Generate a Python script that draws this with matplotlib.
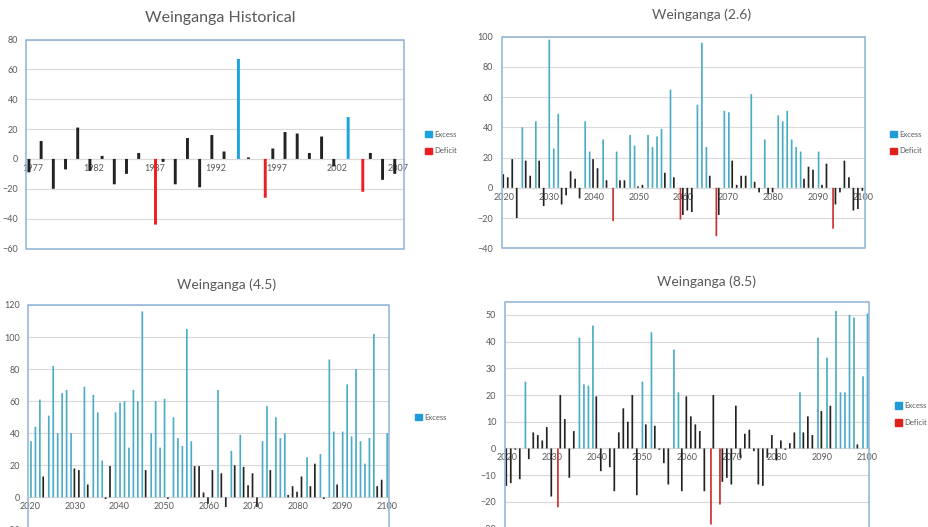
import matplotlib.pyplot as plt
from matplotlib.patches import Rectangle
import numpy as np

plt.rcParams['font.family'] = ['Lato', 'DejaVu Sans']

# Weinganga excess / deficit series
hist_years = list(range(1977, 2008))
hist_vals = [-9, 12, -20, -7, 21, -8, 2, -17, -10, 4,
             -44, -2, -17, 14, -19, 16, 5, 67, 1, -26,
             7, 18, 17, 4, 15, -5, 28, -22, 4, -14, -10]
hist_excess = [1994, 2003]
hist_deficit = [1987, 1996, 2004]

fut_years = list(range(2020, 2101))

rcp26_vals = [9, 7, 19, -20, 40, 18, 8, 44, 18, -12,
              98, 26, 49, -11, -5, 11, 6, -7, 44, 24,
              19, 13, 32, 5, -22, 24, 5, 5, 35, 28,
              1, 2, 35, 27, 34, 39, 10, 65, 7, -21,
              -18, -15, -16, 55, 96, 27, 8, -32, -18, 51,
              50, 18, 2, 8, 8, 62, 4, -3, 32, -4,
              -3, 48, 44, 51, 32, 27, 24, 6, 14, 12,
              24, 2, 16, -27, -11, -3, 18, 7, -15, -14,
              -2]
rcp26_excess = [2024, 2027, 2030, 2031, 2032, 2038, 2039, 2042, 2045, 2048,
                2049, 2052, 2053, 2054, 2055, 2057, 2063, 2064, 2065, 2069,
                2070, 2075, 2078, 2081, 2082, 2083, 2084, 2085, 2086, 2090]
rcp26_deficit = [2044, 2059, 2067, 2093]

rcp45_vals = [35, 44, 61, 13, 51, 82, 40, 65, 67, 40,
              18, 17, 69, 8, 64, 53, 23, -1, 19.5, 53,
              59, 60, 31, 67, 60, 116, 17, 40, 60, 31,
              61.5, -1, 50, 37, 32, 105, 35, 19.5, 19.5, 3,
              -4, 17, 67, 15, -6, 29, 20, 39, 19, 7.5,
              15, -6, 35, 57, 17, 50, 37, 40, 1.5, 7,
              3.5, 13, 25, 7, 21, 27, -1, 86, 41, 8,
              41, 70.5, 38, 80, 35, 21, 37, 102, 7, 11,
              40]
rcp45_excess = [2020, 2021, 2022, 2024, 2025, 2026, 2027, 2028, 2029, 2032,
                2034, 2035, 2036, 2039, 2040, 2041, 2042, 2043, 2044, 2045,
                2047, 2048, 2049, 2050, 2052, 2053, 2054, 2055, 2056, 2062,
                2065, 2067, 2072, 2073, 2075, 2076, 2077, 2082, 2085, 2087,
                2088, 2090, 2091, 2092, 2093, 2094, 2095, 2096, 2097, 2100]
rcp45_deficit = []

rcp85_vals = [-14, -13, -0.5, -11.5, 25, -4, 6, 5, 3, 8,
              -18, -22, 20, 11, -11, 6.5, 41.5, 24, 23.5, 46,
              19.5, -8.5, 0, -7, -16, 6, 15, 10, 20, -17.5,
              25, 9, 43.5, 8.5, -0.5, -5.5, -13.5, 37, 21, -16,
              19.5, 12, 9, 6.5, -16, -28.5, 20, -21, -12.5, -11,
              -13.5, 16, -3.5, 5.5, 7, -1, -13.5, -14, -3.5, 5,
              -4.5, 3, -0.5, 2, 6, 21, 6, 12, 5, 41.5,
              14, 34, 16, 51.5, 21, 21, 50, 49, 1.5, 27,
              50.5]
rcp85_excess = [2024, 2036, 2037, 2038, 2039, 2050, 2052, 2057, 2058, 2085,
                2089, 2091, 2093, 2094, 2095, 2096, 2097, 2099, 2100]
rcp85_deficit = [2031, 2065, 2067]

W, H = 929, 527
TXT = "#595959"
GRID = "#d9d9d9"
FRAME = "#8eb2d6"
BLACK = "#222222"


def px_box(left, top, right, bottom):
    # pixel box of the plot area -> figure fraction
    return [left / W, 1 - bottom / H, (right - left) / W, (bottom - top) / H]


def panel(fig, box, years, vals, excess, deficit, ylim, step, every,
          offs, width, blue, red):
    ax = fig.add_axes(box)
    years = np.array(years)
    vals = np.array(vals, dtype=float)
    x = np.arange(len(years))
    exc = np.isin(years, excess)
    dfc = np.isin(years, deficit)
    norm = ~(exc | dfc)

    # snap off so the thin bars all keep the same width
    ax.bar(x[norm] + offs[0], vals[norm], width, color=BLACK, zorder=3,
           snap=False)
    ax.bar(x[exc] + offs[1], vals[exc], width, color=blue, zorder=3,
           snap=False)
    ax.bar(x[dfc] + offs[2], vals[dfc], width, color=red, zorder=3,
           snap=False)

    ax.set_xlim(-0.5, len(years) - 0.5)
    ax.set_ylim(*ylim)
    ax.set_yticks(np.arange(ylim[0], ylim[1] + 0.1, step))
    ax.set_xticks(x[::every])
    ax.set_xticklabels([str(y) for y in years[::every]])

    ax.yaxis.grid(True, color=GRID, lw=0.8)
    ax.set_axisbelow(True)
    for s in ["left", "right", "top"]:
        ax.spines[s].set_visible(False)
    ax.spines["bottom"].set_position(("data", 0))
    ax.spines["bottom"].set_color(GRID)
    ax.spines["bottom"].set_linewidth(0.8)
    ax.add_patch(Rectangle((0, 0), 1, 1, transform=ax.transAxes, fill=False,
                           edgecolor=FRAME, lw=1.1, clip_on=False, zorder=5))

    ax.tick_params(axis="x", length=0, pad=3.5, labelsize=6.5, labelcolor=TXT)
    ax.tick_params(axis="y", length=0, pad=6, labelsize=6.5, labelcolor=TXT)
    return ax


def legend(fig, x, y, blue, red, with_deficit=True):
    handles = [Rectangle((0, 0), 1, 1, color=blue)]
    labels = ["Excess"]
    if with_deficit:
        handles.append(Rectangle((0, 0), 1, 1, color=red))
        labels.append("Deficit")
    fig.legend(handles, labels, loc="center left",
               bbox_to_anchor=(x / W, 1 - y / H), frameon=False,
               fontsize=5.5, handlelength=0.9, handleheight=0.9,
               handletextpad=0.3, labelspacing=1.3, borderpad=0,
               borderaxespad=0, labelcolor=TXT)


def main():
    fig = plt.figure(figsize=(W / 100, H / 100), dpi=100)

    hb, hr = "#1aa3dc", "#ee1d23"
    fb, fr = "#4bacc6", "#c9302c"

    panel(fig, px_box(26.5, 39.5, 404.5, 248.5), hist_years, hist_vals,
          hist_excess, hist_deficit, (-60, 80), 20, 5,
          (-0.3, -0.12, 0.08), 0.24, hb, hr)
    fig.text(220 / W, 1 - 18 / H, "Weinganga Historical", ha="center",
             va="center", fontsize=11.5, color=TXT)
    legend(fig, 425, 142.5, hb, hr)

    panel(fig, px_box(501.7, 36.7, 865.3, 248.3), fut_years, rcp26_vals,
          rcp26_excess, rcp26_deficit, (-40, 100), 20, 10,
          (-0.15, 0.1, 0.32), 0.38, fb, fr)
    fig.text(702 / W, 1 - 15 / H, "Weinganga (2.6)", ha="center",
             va="center", fontsize=10, color=TXT)
    legend(fig, 890, 142.5, "#1f9bd7", "#e0201b")

    panel(fig, px_box(28.3, 305, 389, 529.4), fut_years, rcp45_vals,
          rcp45_excess, rcp45_deficit, (-20, 120), 20, 10,
          (-0.15, 0.1, 0.32), 0.38, fb, fr)
    fig.text(227 / W, 1 - 285 / H, "Weinganga (4.5)", ha="center",
             va="center", fontsize=10, color=TXT)
    legend(fig, 415, 417, "#1f9bd7", "#e0201b", with_deficit=False)

    panel(fig, px_box(504.7, 301.5, 869.3, 528.6), fut_years, rcp85_vals,
          rcp85_excess, rcp85_deficit, (-30, 55), 10, 10,
          (-0.15, 0.1, 0.32), 0.38, fb, fr)
    fig.text(707 / W, 1 - 282 / H, "Weinganga (8.5)", ha="center",
             va="center", fontsize=10, color=TXT)
    legend(fig, 895, 414, "#1f9bd7", "#e0201b")

    fig.savefig("out.png", dpi=100)


if __name__ == "__main__":
    main()
